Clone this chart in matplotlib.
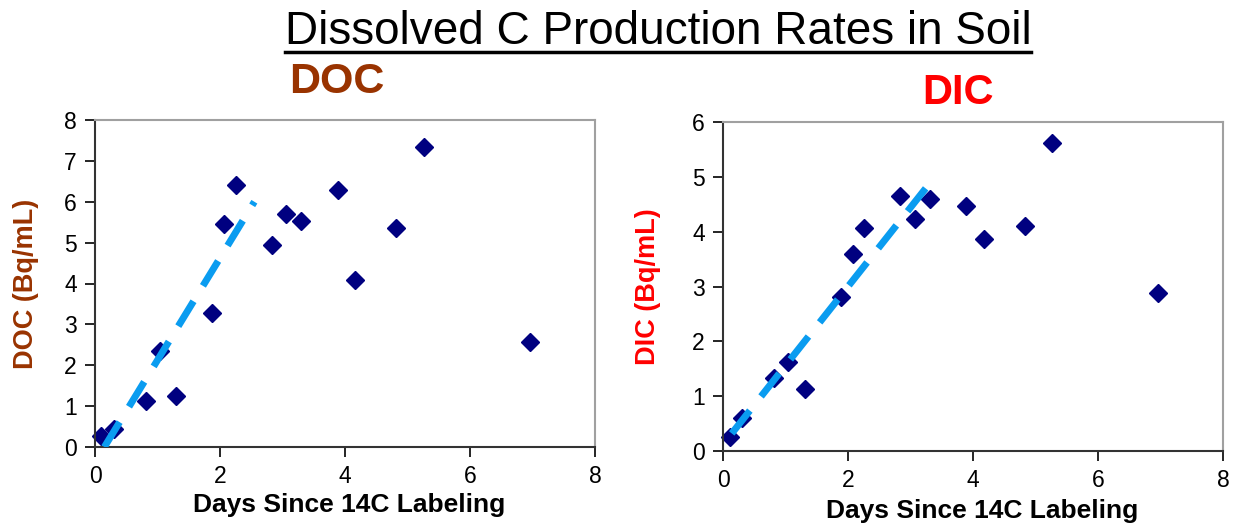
import matplotlib
matplotlib.use("Agg")
import matplotlib.pyplot as plt
from matplotlib.lines import Line2D

# DOC data (days, Bq/mL)
doc_days = [0.10, 0.30, 0.82, 1.04, 1.30, 1.87, 2.06, 2.26, 2.83, 3.05, 3.30, 3.88, 4.16, 4.82, 5.26, 6.96]
doc_vals = [0.27, 0.43, 1.13, 2.35, 1.25, 3.29, 5.45, 6.42, 4.95, 5.70, 5.53, 6.29, 4.09, 5.37, 7.33, 2.57]
doc_trend_x = [0.15, 2.55]
doc_trend_y = [0.0, 6.0]

# DIC data
dic_days = [0.11, 0.31, 0.81, 1.04, 1.31, 1.88, 2.08, 2.25, 2.83, 3.07, 3.31, 3.89, 4.18, 4.83, 5.26, 6.96]
dic_vals = [0.26, 0.61, 1.34, 1.62, 1.13, 2.81, 3.59, 4.06, 4.65, 4.23, 4.60, 4.47, 3.87, 4.10, 5.61, 2.89]
dic_trend_x = [0.14, 3.25]
dic_trend_y = [0.32, 4.80]

x_ticks = [0, 2, 4, 6, 8]
doc_yticks = [0, 1, 2, 3, 4, 5, 6, 7, 8]
dic_yticks = [0, 1, 2, 3, 4, 5, 6]

W, H = 1237, 527
plt.rcParams['font.family'] = ['Liberation Sans', 'DejaVu Sans']
fig = plt.figure(figsize=(W / 100, H / 100), dpi=100)

NAVY = '#000080'
TREND = '#0a9cf0'
BROWN = '#993300'
RED = '#ff0000'


def box(x0, y0, x1, y1):
    return [x0 / W, 1 - y1 / H, (x1 - x0) / W, (y1 - y0) / H]


def setup(ax, xs, ys, tx, ty, yticks, ylabel, lcolor, ylab_x, xlab_x, xlab_y):
    ax.plot(tx, ty, color=TREND, lw=5, dashes=(4.2, 2.6), solid_capstyle='butt', zorder=3)
    ax.plot(xs, ys, 'D', color=NAVY, markersize=8.7, zorder=2, clip_on=False)
    ax.set_xlim(0, 8)
    ax.set_ylim(yticks[0], yticks[-1])
    ax.set_xticks(x_ticks)
    ax.set_yticks(yticks)
    ax.tick_params(labelsize=16.5, length=7, width=1.2, direction='out', pad=6)
    for s in ['top', 'right']:
        ax.spines[s].set_color('#a0a0a0')
        ax.spines[s].set_linewidth(1.5)
    for s in ['left', 'bottom']:
        ax.spines[s].set_color('#333333')
        ax.spines[s].set_linewidth(1.5)
    ax.tick_params(top=False, right=False)
    ax.set_ylabel(ylabel, fontsize=19.5, fontweight='bold', color=lcolor, va='center')
    ax.yaxis.set_label_coords(ylab_x, 0.5)
    ax.set_xlabel('Days Since 14C Labeling', fontsize=19, fontweight='bold')
    ax.xaxis.set_label_coords(xlab_x, xlab_y)


ax1 = fig.add_axes(box(95, 120, 595, 447))
setup(ax1, doc_days, doc_vals, doc_trend_x, doc_trend_y, doc_yticks, 'DOC (Bq/mL)', BROWN,
      -0.138, 0.508, -0.142)
ax2 = fig.add_axes(box(723, 122, 1223, 451))
setup(ax2, dic_days, dic_vals, dic_trend_x, dic_trend_y, dic_yticks, 'DIC (Bq/mL)', RED,
      -0.15, 0.518, -0.147)

title = fig.text(658 / W, 1 - 32 / H, 'Dissolved C Production Rates in Soil',
                 ha='center', va='center', fontsize=33)
fig.text(337 / W, 1 - 82 / H, 'DOC', ha='center', va='center', fontsize=31,
         fontweight='bold', color=BROWN)
fig.text(958 / W, 1 - 93 / H, 'DIC', ha='center', va='center', fontsize=30,
         fontweight='bold', color=RED)

# underline the main title
fig.canvas.draw()
bb = title.get_window_extent()
fig.add_artist(Line2D([bb.x0 / W, bb.x1 / W], [1 - 52 / H, 1 - 52 / H],
                      color='black', lw=2.5, transform=fig.transFigure))

fig.savefig('out.png', dpi=100)
